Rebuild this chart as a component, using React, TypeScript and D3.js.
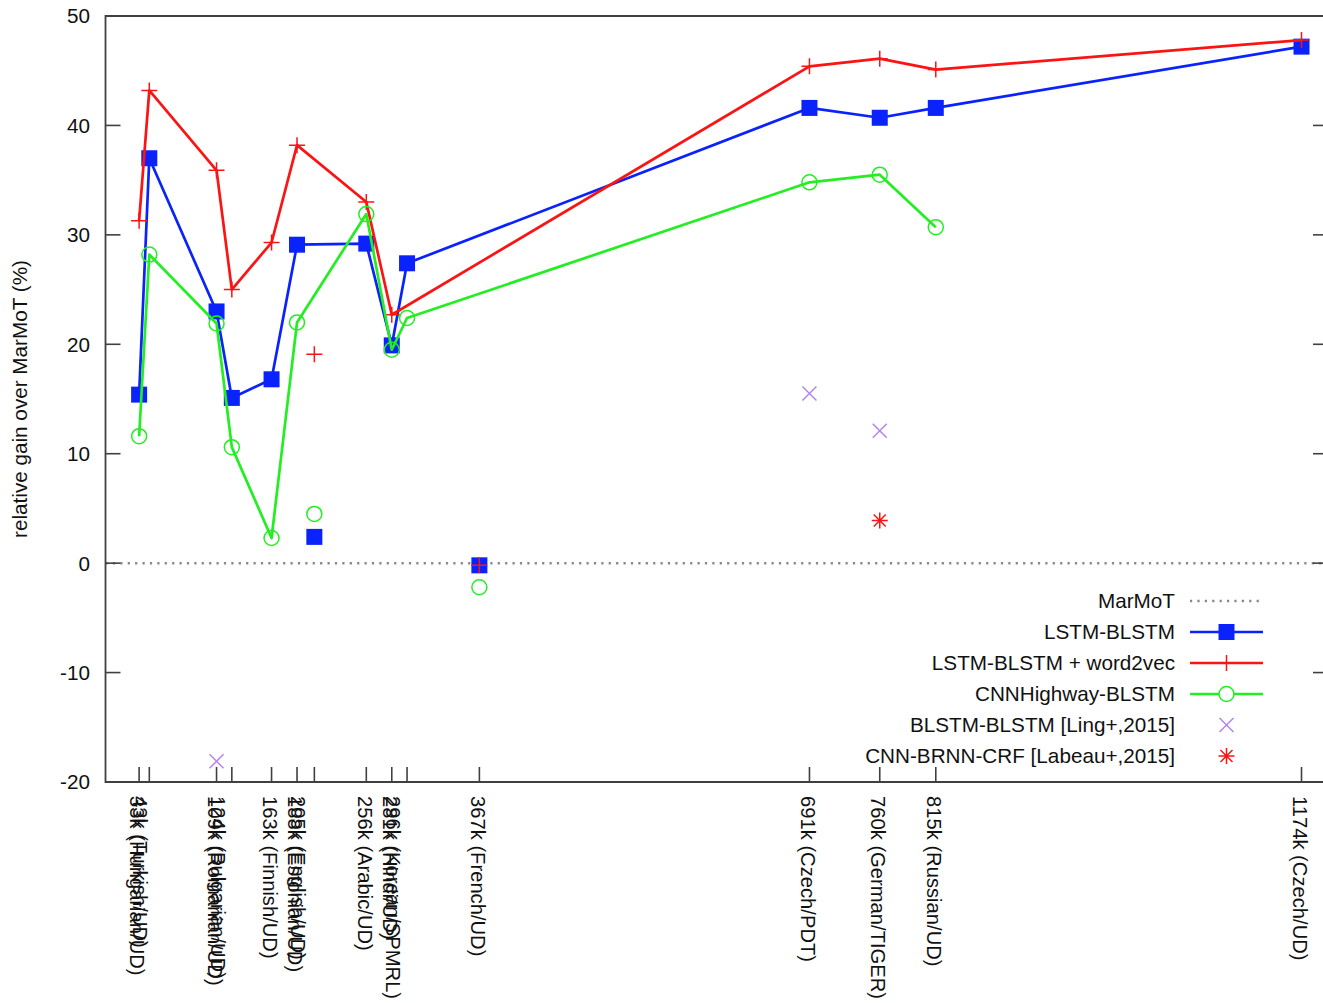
import React from 'react';
import * as d3 from 'd3';

// training set size (k tokens) and treebank of each tick
const sizes = [33, 43, 109, 124, 163, 188, 205, 256, 281, 296, 367, 691, 760, 815, 1174];
const treebanks = [
  'Hungarian/UD', 'Turkish/UD', 'Romanian/UD', 'Bulgarian/UD', 'Finnish/UD',
  'Estonian/UD', 'English/UD', 'Arabic/UD', 'Hindi/UD', 'Korean/SPMRL',
  'French/UD', 'Czech/PDT', 'German/TIGER', 'Russian/UD', 'Czech/UD',
];

// relative gain over MarMoT (%), null = no result
const lstmBlstm = [15.4, 37.0, 23.0, 15.1, 16.8, 29.1, 2.4, 29.2, 19.9, 27.4, -0.2, 41.6, 40.7, 41.6, 47.2];
const lstmBlstmW2v = [31.3, 43.2, 35.9, 25.0, 29.3, 38.2, 19.1, 33.0, 22.7, null, -0.2, 45.4, 46.1, 45.1, 47.8];
const cnnHighway = [11.6, 28.2, 21.9, 10.6, 2.3, 22.0, 4.5, 31.9, 19.5, 22.4, -2.2, 34.8, 35.5, 30.7, null];

// these sizes are drawn as lone points, not joined by the lines
const unjoinedSizes = [205, 367];

const lingSizes = [109, 691, 760];
const lingValues = [-18.1, 15.5, 12.1];
const labeauSizes = [760];
const labeauValues = [3.9];

const yTicks = [-20, -10, 0, 10, 20, 30, 40, 50];

const W = 1323;
const H = 1003;
const margin = { left: 105.5, right: 1328, top: 16, bottom: 782 };
const FONT = '"Liberation Sans", Arial, Helvetica, sans-serif';
const FS = 20.7;
const FS_X = 20.2;

const BLUE = '#0a22fb';
const RED = '#fa1414';
const GREEN = '#22ee22';
const PURPLE = '#b483f2';
const AXIS = '#404040';
const LW = 2.7;

const x = d3.scaleLinear().domain([0, 1200]).range([margin.left, margin.right]);
const y = d3.scaleLinear().domain([-20, 50]).range([margin.bottom, margin.top]);

type Pt = { k: number; v: number };

const pointsOf = (vals: (number | null)[]): Pt[] =>
  sizes.map((k, i) => ({ k, v: vals[i] as number })).filter((p) => p.v != null);

const lineGen = d3.line<Pt>().x((d) => x(d.k)).y((d) => y(d.v));

const joined = (pts: Pt[]) => lineGen(pts.filter((p) => !unjoinedSizes.includes(p.k))) || '';

const S = 8; // half marker size
const plusPath = (cx: number, cy: number) => `M${cx - S},${cy}H${cx + S}M${cx},${cy - S}V${cy + S}`;
const crossPath = (cx: number, cy: number, r = 7) =>
  `M${cx - r},${cy - r}L${cx + r},${cy + r}M${cx - r},${cy + r}L${cx + r},${cy - r}`;
const starPath = (cx: number, cy: number) => plusPath(cx, cy) + crossPath(cx, cy, 6);

const Square = ({ cx, cy }: { cx: number; cy: number }) => (
  <rect x={cx - 8} y={cy - 8} width={16} height={16} fill={BLUE} />
);

const legendRows = [
  { label: 'MarMoT', kind: 'dots' },
  { label: 'LSTM-BLSTM', kind: 'blue' },
  { label: 'LSTM-BLSTM + word2vec', kind: 'red' },
  { label: 'CNNHighway-BLSTM', kind: 'green' },
  { label: 'BLSTM-BLSTM [Ling+,2015]', kind: 'ling' },
  { label: 'CNN-BRNN-CRF [Labeau+,2015]', kind: 'labeau' },
];

const App = () => {
  const blue = pointsOf(lstmBlstm);
  const red = pointsOf(lstmBlstmW2v);
  const green = pointsOf(cnnHighway);

  // close pairs of labels end up stacked on the first one, as in the source plot
  const labelX = sizes.map((k, i) =>
    i > 0 && k - sizes[i - 1] < 20 ? x(sizes[i - 1]) + 1.5 : x(k) - 1.5,
  );

  const legX = 1175;
  const sampleX0 = 1190;
  const sampleX1 = 1263;
  const sampleMid = (sampleX0 + sampleX1) / 2;

  return (
    <svg
      width={W}
      height={H}
      style={{ position: 'absolute', left: 0, top: 0, background: '#fff' }}
      fontFamily={FONT}
    >
      {/* MarMoT baseline */}
      <line
        x1={margin.left}
        x2={margin.right}
        y1={y(0)}
        y2={y(0)}
        stroke="#888"
        strokeWidth={2.5}
        strokeDasharray="2.2,5.2"
      />

      {/* LSTM-BLSTM */}
      <path d={joined(blue)} fill="none" stroke={BLUE} strokeWidth={LW} strokeLinejoin="round" />
      {blue.map((p) => (
        <Square key={'b' + p.k} cx={x(p.k)} cy={y(p.v)} />
      ))}

      {/* LSTM-BLSTM + word2vec */}
      <path d={joined(red)} fill="none" stroke={RED} strokeWidth={LW} strokeLinejoin="round" />
      {red.map((p) => (
        <path key={'r' + p.k} d={plusPath(x(p.k), y(p.v))} stroke={RED} strokeWidth={1.5} />
      ))}

      {/* CNNHighway-BLSTM */}
      <path d={joined(green)} fill="none" stroke={GREEN} strokeWidth={LW} strokeLinejoin="round" />
      {green.map((p) => (
        <circle key={'g' + p.k} cx={x(p.k)} cy={y(p.v)} r={7.5} fill="none" stroke={GREEN} strokeWidth={1.5} />
      ))}

      {/* Ling+ 2015 */}
      {lingSizes.map((k, i) => (
        <path key={'l' + k} d={crossPath(x(k), y(lingValues[i]))} stroke={PURPLE} strokeWidth={1.5} />
      ))}

      {/* Labeau+ 2015 */}
      {labeauSizes.map((k, i) => (
        <path key={'a' + k} d={starPath(x(k), y(labeauValues[i]))} stroke={RED} strokeWidth={1.5} />
      ))}

      {/* border */}
      <path
        d={`M${margin.right},${margin.top}H${margin.left}V${margin.bottom}H${margin.right}`}
        fill="none"
        stroke={AXIS}
        strokeWidth={1.8}
      />

      {/* y ticks, both sides */}
      {yTicks.map((t) => (
        <g key={'yt' + t}>
          <line x1={margin.left} x2={margin.left + 15} y1={y(t)} y2={y(t)} stroke={AXIS} strokeWidth={1.6} />
          <line x1={margin.right - 15} x2={margin.right} y1={y(t)} y2={y(t)} stroke={AXIS} strokeWidth={1.6} />
          <text x={90} y={y(t)} dy="0.36em" textAnchor="end" fontSize={FS} fill="#111">
            {t}
          </text>
        </g>
      ))}

      {/* x ticks */}
      {sizes.map((k, i) => (
        <g key={'xt' + k}>
          <line x1={x(k)} x2={x(k)} y1={margin.bottom} y2={margin.bottom - 15} stroke={AXIS} strokeWidth={1.6} />
          <text
            transform={`translate(${labelX[i]},${margin.bottom + 14}) rotate(90)`}
            dy="0.36em"
            textAnchor="start"
            fontSize={FS_X}
            fill="#111"
          >
            {`${k}k (${treebanks[i]})`}
          </text>
        </g>
      ))}

      {/* y title */}
      <text
        transform={`translate(27,${(margin.top + margin.bottom) / 2}) rotate(-90)`}
        textAnchor="middle"
        fontSize={FS}
        fill="#111"
      >
        relative gain over MarMoT (%)
      </text>

      {/* legend */}
      {legendRows.map((row, i) => {
        const ly = 601 + i * 31;
        return (
          <g key={row.label}>
            <text x={legX} y={ly} dy="0.36em" textAnchor="end" fontSize={FS} fill="#111">
              {row.label}
            </text>
            {row.kind === 'dots' && (
              <line x1={sampleX0} x2={sampleX1} y1={ly} y2={ly} stroke="#888" strokeWidth={2.5} strokeDasharray="2.2,5.2" />
            )}
            {row.kind === 'blue' && (
              <>
                <line x1={sampleX0} x2={sampleX1} y1={ly} y2={ly} stroke={BLUE} strokeWidth={LW} />
                <Square cx={sampleMid} cy={ly} />
              </>
            )}
            {row.kind === 'red' && (
              <>
                <line x1={sampleX0} x2={sampleX1} y1={ly} y2={ly} stroke={RED} strokeWidth={LW} />
                <path d={plusPath(sampleMid, ly)} stroke={RED} strokeWidth={1.5} />
              </>
            )}
            {row.kind === 'green' && (
              <>
                <line x1={sampleX0} x2={sampleX1} y1={ly} y2={ly} stroke={GREEN} strokeWidth={LW} />
                <circle cx={sampleMid} cy={ly} r={7.5} fill="#fff" stroke={GREEN} strokeWidth={1.5} />
              </>
            )}
            {row.kind === 'ling' && <path d={crossPath(sampleMid, ly)} stroke={PURPLE} strokeWidth={1.5} />}
            {row.kind === 'labeau' && <path d={starPath(sampleMid, ly)} stroke={RED} strokeWidth={1.5} />}
          </g>
        );
      })}
    </svg>
  );
};

export default App;
